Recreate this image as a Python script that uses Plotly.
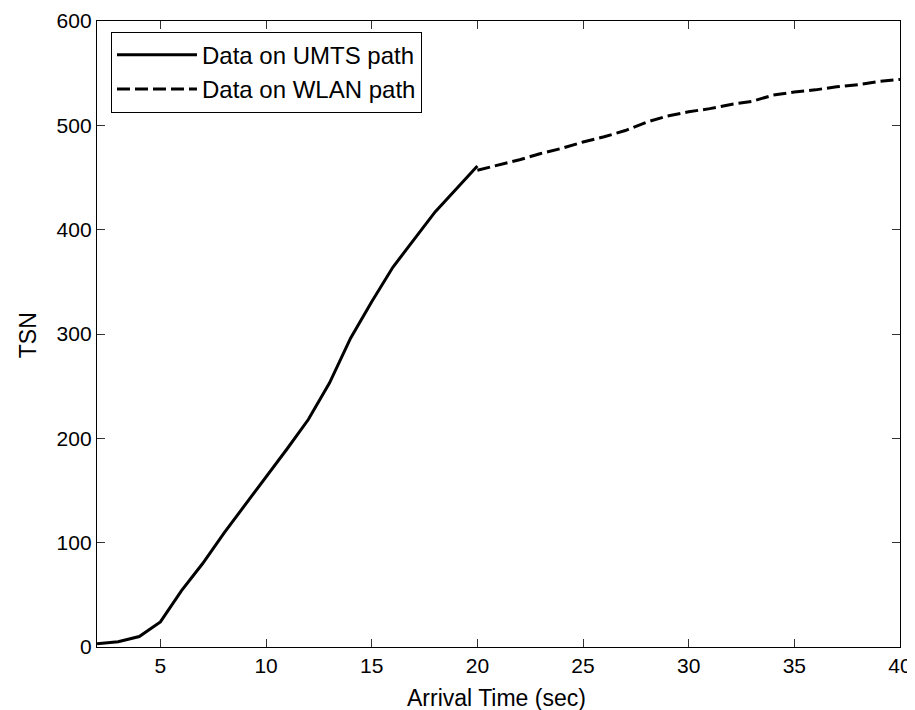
import plotly.graph_objects as go

# UMTS path data (x = arrival time in sec, y = TSN)
umts_time = [2, 3, 4, 5, 6, 7, 8, 9, 10, 11, 12, 13, 14, 15, 16, 17, 18, 19, 20]
umts_tsn = [3, 5, 10, 24, 54, 80, 109, 136, 162, 190, 218, 253, 296, 331, 364, 391, 417, 439, 461]

# WLAN path data
wlan_time = [20, 21, 22, 23, 24, 25, 26, 27, 28, 29, 30, 31, 32, 33, 34, 35, 36, 37, 38, 39, 40]
wlan_tsn = [457, 462, 467, 473, 478, 484, 489, 495, 503, 509, 513, 516, 520, 523, 529, 532, 534, 537, 539, 542, 544]

x_ticks = [5, 10, 15, 20, 25, 30, 35, 40]
y_ticks = [0, 100, 200, 300, 400, 500, 600]

x_title = "Arrival Time (sec)"
y_title = "TSN"

FONT = "Liberation Sans, Arial, Helvetica, sans-serif"

fig = go.Figure()
fig.add_trace(go.Scatter(x=umts_time, y=umts_tsn, mode="lines", name="Data on UMTS path",
                         line=dict(color="black", width=3)))
fig.add_trace(go.Scatter(x=wlan_time, y=wlan_tsn, mode="lines", name="Data on WLAN path",
                         line=dict(color="black", width=3, dash="13px,5px")))

axis_common = dict(showline=True, linecolor="black", linewidth=1.3, mirror="ticks",
                   ticks="inside", ticklen=8, tickcolor="#333333", tickwidth=1,
                   showgrid=False, zeroline=False, automargin=False,
                   ticklabeloverflow="allow",
                   tickfont=dict(family=FONT, size=21, color="black"))

fig.update_layout(
    width=907, height=702,
    margin=dict(l=89, r=15, t=13, b=63, autoexpand=False),
    paper_bgcolor="white", plot_bgcolor="white",
    font=dict(family=FONT, size=21, color="black"),
    xaxis=dict(range=[2, 40], tickvals=x_ticks, ticktext=[str(v) for v in x_ticks],
               **axis_common),
    yaxis=dict(range=[0, 600], tickvals=y_ticks, ticktext=[str(v) for v in y_ticks],
               **axis_common),
    legend=dict(x=0.0174, y=0.983, xanchor="left", yanchor="top",
                bgcolor="white", bordercolor="black", borderwidth=1,
                font=dict(family=FONT, size=24, color="black"),
                itemwidth=80, tracegroupgap=0),
    showlegend=True,
    annotations=[
        dict(text=x_title, xref="paper", yref="paper", x=0.497, y=-0.081,
             xanchor="center", yanchor="middle", showarrow=False,
             font=dict(family=FONT, size=23, color="black")),
        dict(text=y_title, xref="paper", yref="paper", x=-0.086, y=0.498,
             xanchor="center", yanchor="middle", showarrow=False, textangle=-90,
             font=dict(family=FONT, size=23, color="black")),
    ],
)

fig.write_html("out.html")
